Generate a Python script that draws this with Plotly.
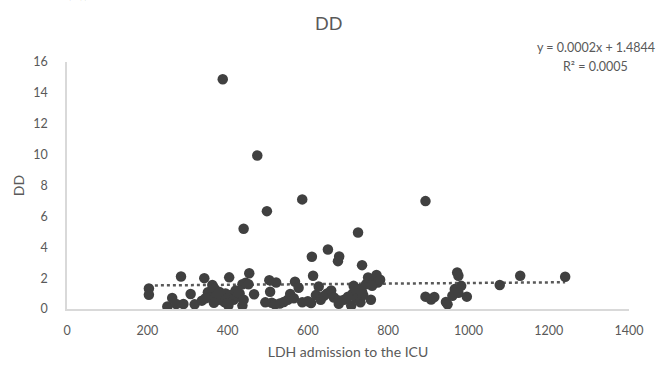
import plotly.graph_objects as go

ldh = [388, 474, 586, 498, 893, 440, 725, 650, 610, 678, 675, 735,
       972, 975, 1129, 1241, 1078, 893, 907, 915, 944, 948, 960, 966, 982, 996, 975,
       204, 204, 250, 262, 272, 290, 284, 308, 318, 336, 342, 351, 362, 357, 368, 372,
       378, 385, 392, 395, 398, 402, 404, 408, 415, 420, 425, 430, 437, 437, 445, 452,
       454, 440, 466, 400, 380, 345, 366,
       494, 504, 506, 510, 521, 518, 530, 540, 550, 556, 565, 568, 577, 586, 600, 608,
       613, 620, 627, 632, 640, 648, 658, 665, 677, 677, 690, 708, 712, 714, 720, 728,
       731, 738, 745, 750, 757, 765, 771, 774, 780, 760, 735, 700]
dd = [14.88, 9.94, 7.1, 6.34, 6.99, 5.2, 4.95, 3.85, 3.38, 3.4, 3.1, 2.84,
      2.37, 2.15, 2.15, 2.09, 1.55, 0.8, 0.62, 0.78, 0.45, 0.3, 0.86, 1.29, 1.5, 0.8, 1.05,
      1.33, 0.92, 0.17, 0.71, 0.32, 0.32, 2.1, 0.97, 0.3, 0.54, 2.0, 1.08, 1.55, 0.75, 1.3, 0.9,
      0.6, 0.8, 0.45, 1.0, 0.65, 0.22, 2.05, 0.9, 0.6, 1.2, 0.8, 1.0, 0.22, 1.6, 1.7, 1.6,
      2.32, 0.6, 0.95, 0.35, 1.1, 0.7, 0.4,
      0.43, 1.87, 1.12, 0.4, 1.72, 0.3, 0.35, 0.45, 0.6, 0.97, 0.7, 1.76, 1.38, 0.43, 0.5, 0.39,
      2.15, 0.9, 1.46, 0.6, 0.85, 1.0, 1.2, 0.75, 0.34, 0.55, 0.6, 0.22, 1.0, 1.5, 0.7, 1.3,
      0.43, 0.9, 1.6, 2.04, 0.6, 1.8, 2.2, 1.72, 1.9, 1.5, 1.1, 0.8]

slope = 0.0002
intercept = 1.4844
r2 = 0.0005
x_ticks = [0, 200, 400, 600, 800, 1000, 1200, 1400]
y_ticks = [0, 2, 4, 6, 8, 10, 12, 14, 16]

font_family = "Lato, 'Open Sans', sans-serif"
grey = "#595959"

trend_x = [min(ldh), max(ldh)]
trend_y = [slope * v + intercept for v in trend_x]

fig = go.Figure()
fig.add_trace(go.Scatter(
    x=trend_x, y=trend_y, mode="lines",
    line=dict(color=grey, width=2.5, dash="dot"),
    showlegend=False, hoverinfo="skip"))
fig.add_trace(go.Scatter(
    x=ldh, y=dd, mode="markers",
    marker=dict(color="#404040", size=10.5, line=dict(width=0)),
    showlegend=False))

fig.update_layout(
    width=671, height=365,
    margin=dict(l=67, r=42, t=62, b=56),
    paper_bgcolor="white", plot_bgcolor="white",
    font=dict(family=font_family, color=grey, size=12),
    title=dict(text="DD", x=0.49, xanchor="center", y=0.935, yanchor="middle",
               font=dict(size=18, color=grey, family=font_family)),
    xaxis=dict(range=[0, 1400], tickvals=x_ticks, ticktext=[str(t) for t in x_ticks],
               showgrid=False, zeroline=False, showline=True, linecolor="#d9d9d9",
               linewidth=1.5, ticks="", ticklabelstandoff=9, automargin=False,
               tickfont=dict(size=12.5, color=grey),
               title=dict(text="LDH admission to the ICU", font=dict(size=14, color=grey),
                          standoff=10)),
    yaxis=dict(range=[0, 16], tickvals=y_ticks, ticktext=[str(t) for t in y_ticks],
               showgrid=False, zeroline=False, showline=True, linecolor="#d9d9d9",
               linewidth=1.5, ticks="", ticklabelstandoff=15, automargin=False,
               tickfont=dict(size=12.5, color=grey),
               title=dict(text="DD", font=dict(size=14, color=grey), standoff=5)),
)

fig.add_annotation(text=f"y = {slope:.4f}x + {intercept:.4f}", xref="paper", yref="paper",
                   x=0.941, y=1.06, xanchor="center", yanchor="middle", showarrow=False,
                   font=dict(size=12.5, color=grey))
fig.add_annotation(text=f"R² = {r2:.4f}", xref="paper", yref="paper",
                   x=0.941, y=0.98, xanchor="center", yanchor="middle", showarrow=False,
                   font=dict(size=12.5, color=grey))
fig.add_annotation(text="(b))", xref="paper", yref="paper",
                   x=-0.004, y=1.238, xanchor="left", yanchor="bottom", showarrow=False,
                   font=dict(size=16, color="#333333"))

fig.write_html("out.html", config={"displayModeBar": False},
               post_script="document.body.style.margin='0px';")
